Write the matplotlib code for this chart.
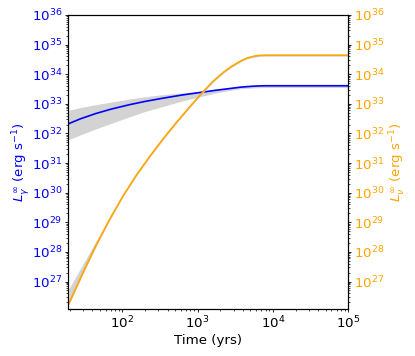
import numpy as np
import matplotlib
matplotlib.use('Agg')
import matplotlib.pyplot as plt

# log10 time (yrs) and log10 luminosity (erg/s)
log_t_gamma = [1.287, 1.45, 1.645, 1.85, 2.094, 2.3, 2.54, 2.8, 3.08, 3.25, 3.44, 3.58,
               3.71, 3.8, 3.89, 5.0]
log_L_gamma = [32.33, 32.50, 32.67, 32.82, 32.97, 33.08, 33.19, 33.30, 33.40, 33.46,
               33.52, 33.565, 33.59, 33.603, 33.61, 33.61]
log_L_gamma_hi = [32.78, 32.88, 32.97, 33.06, 33.16, 33.24, 33.31, 33.37, 33.43, 33.48,
                  33.54, 33.585, 33.615, 33.63, 33.64, 33.64]
log_L_gamma_lo = [31.79, 31.96, 32.15, 32.34, 32.56, 32.74, 32.91, 33.1, 33.27, 33.37,
                  33.46, 33.51, 33.53, 33.545, 33.55, 33.55]

log_t_nu = [1.287, 1.466, 1.645, 1.825, 2.004, 2.183, 2.363, 2.542, 2.721, 2.902,
            3.07, 3.2, 3.35, 3.46, 3.575, 3.66, 3.754, 3.82, 3.89, 5.0]
log_L_nu = [26.24, 27.24, 28.19, 29.07, 29.87, 30.58, 31.22, 31.82, 32.38, 32.92,
            33.40, 33.75, 34.08, 34.28, 34.45, 34.55, 34.61, 34.633, 34.64, 34.64]
log_L_nu_hi = [26.74, 27.54, 28.34, 29.15, 29.91, 30.61, 31.25, 31.85, 32.41, 32.95,
               33.43, 33.78, 34.11, 34.31, 34.48, 34.58, 34.64, 34.663, 34.67, 34.67]
log_L_nu_lo = [26.2, 27.2, 28.16, 29.04, 29.84, 30.55, 31.19, 31.79, 32.35, 32.89,
               33.37, 33.72, 34.05, 34.25, 34.42, 34.52, 34.58, 34.603, 34.61, 34.61]

plt.rcParams['font.size'] = 9.6

tg = 10 ** np.array(log_t_gamma)
tn = 10 ** np.array(log_t_nu)

fig = plt.figure(figsize=(4.15, 3.56), dpi=100)
ax1 = fig.add_axes([0.164, 0.131, 0.675, 0.827])
ax2 = ax1.twinx()

ax1.fill_between(tg, 10 ** np.array(log_L_gamma_lo), 10 ** np.array(log_L_gamma_hi),
                 color='lightgray', lw=0)
ax1.plot(tg, 10 ** np.array(log_L_gamma), color='blue', lw=1.2)
ax2.fill_between(tn, 10 ** np.array(log_L_nu_lo), 10 ** np.array(log_L_nu_hi),
                 color='lightgray', lw=0)
ax2.plot(tn, 10 ** np.array(log_L_nu), color='orange', lw=1.2)

for ax in (ax1, ax2):
    ax.set_xscale('log')
    ax.set_yscale('log')
    ax.set_ylim(1.15e26, 1e36)
    ax.set_yticks([10.0 ** k for k in range(27, 37)])
    ax.tick_params(which='major', length=2.2, pad=1.8, width=0.6)
    ax.tick_params(which='minor', length=1.2, width=0.5)
ax1.set_xlim(19, 1e5)

ax1.set_xlabel('Time (yrs)', labelpad=2)
ax1.set_ylabel(r'$L_\gamma^\infty$ (erg s$^{-1}$)', color='blue', labelpad=0)
ax2.set_ylabel(r'$L_\nu^\infty$ (erg s$^{-1}$)', color='orange', labelpad=3)
ax1.tick_params(axis='y', which='both', labelcolor='blue')
ax2.tick_params(axis='y', which='both', labelcolor='orange')

fig.savefig('out.png', dpi=100)
